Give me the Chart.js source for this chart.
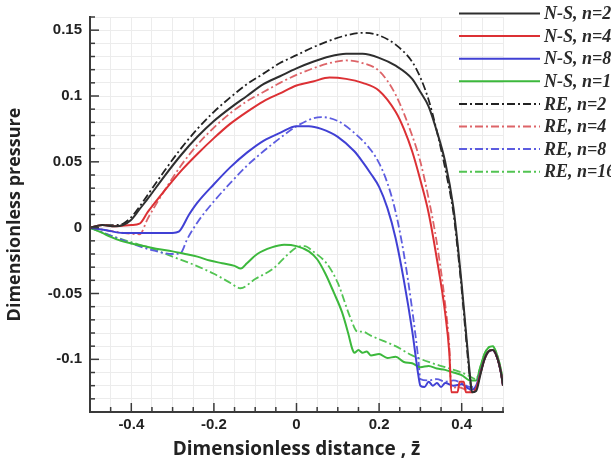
<!DOCTYPE html>
<html>
<head>
<meta charset="utf-8">
<script src="https://cdn.jsdelivr.net/npm/chart.js@4.4.1/dist/chart.umd.min.js"></script>
<style>
  html, body { margin: 0; padding: 0; background: #fff; }
  #wrap { width: 611px; height: 462px; }
</style>
</head>
<body>
<div id="wrap"><canvas id="pressure" width="611" height="462"></canvas></div>
<script>
// series, [z, p]
const ns2 = [[-0.5,0],[-0.47,0.002],[-0.44,0.001],[-0.42,0.002],[-0.4,0.006],[-0.38,0.014],[-0.36,0.022],[-0.32,0.039],[-0.28,0.055],[-0.24,0.069],[-0.2,0.081],[-0.16,0.091],[-0.12,0.1],[-0.08,0.109],[-0.04,0.115],[0,0.121],[0.04,0.126],[0.08,0.13],[0.12,0.132],[0.16,0.132],[0.2,0.129],[0.24,0.123],[0.28,0.113],[0.3,0.103],[0.32,0.092],[0.34,0.073],[0.36,0.05],[0.38,0.015],[0.39,-0.012],[0.4,-0.043],[0.41,-0.078],[0.42,-0.112],[0.425,-0.125],[0.435,-0.124],[0.445,-0.112],[0.455,-0.1],[0.465,-0.094],[0.475,-0.093],[0.485,-0.098],[0.495,-0.11],[0.5,-0.12]];
const ns4 = [[-0.5,0],[-0.47,0.002],[-0.44,0.001],[-0.4,0.002],[-0.38,0.003],[-0.36,0.012],[-0.32,0.028],[-0.28,0.043],[-0.24,0.056],[-0.2,0.068],[-0.16,0.079],[-0.12,0.088],[-0.08,0.096],[-0.04,0.102],[0,0.108],[0.04,0.111],[0.08,0.114],[0.12,0.113],[0.16,0.11],[0.2,0.104],[0.24,0.088],[0.26,0.075],[0.28,0.058],[0.3,0.036],[0.32,0.011],[0.34,-0.024],[0.36,-0.065],[0.37,-0.095],[0.375,-0.125],[0.39,-0.125],[0.395,-0.117],[0.405,-0.117],[0.41,-0.125],[0.425,-0.125],[0.435,-0.122],[0.445,-0.111],[0.455,-0.1],[0.465,-0.094],[0.475,-0.093],[0.485,-0.098],[0.495,-0.11],[0.5,-0.12]];
const ns8 = [[-0.5,0],[-0.46,-0.002],[-0.42,-0.004],[-0.36,-0.004],[-0.3,-0.004],[-0.285,-0.003],[-0.26,0.01],[-0.24,0.019],[-0.2,0.033],[-0.16,0.046],[-0.12,0.057],[-0.08,0.066],[-0.04,0.072],[0,0.077],[0.03,0.077],[0.06,0.075],[0.1,0.069],[0.14,0.058],[0.16,0.05],[0.18,0.041],[0.2,0.031],[0.22,0.015],[0.24,-0.008],[0.26,-0.04],[0.28,-0.078],[0.295,-0.112],[0.3,-0.12],[0.31,-0.121],[0.32,-0.117],[0.33,-0.12],[0.34,-0.118],[0.35,-0.121],[0.36,-0.118],[0.38,-0.12],[0.4,-0.119],[0.415,-0.122],[0.425,-0.123],[0.435,-0.12],[0.445,-0.11],[0.455,-0.1],[0.465,-0.094],[0.475,-0.093],[0.485,-0.098],[0.495,-0.11],[0.5,-0.12]];
const ns16 = [[-0.5,0],[-0.47,-0.004],[-0.45,-0.007],[-0.425,-0.01],[-0.4,-0.012],[-0.37,-0.014],[-0.34,-0.016],[-0.3,-0.018],[-0.27,-0.02],[-0.24,-0.022],[-0.21,-0.025],[-0.18,-0.027],[-0.15,-0.029],[-0.135,-0.031],[-0.12,-0.027],[-0.095,-0.02],[-0.06,-0.015],[-0.03,-0.013],[0,-0.014],[0.03,-0.018],[0.05,-0.024],[0.07,-0.035],[0.09,-0.049],[0.11,-0.064],[0.125,-0.08],[0.135,-0.092],[0.14,-0.095],[0.15,-0.093],[0.16,-0.095],[0.17,-0.094],[0.18,-0.097],[0.2,-0.096],[0.22,-0.099],[0.24,-0.098],[0.26,-0.102],[0.28,-0.103],[0.3,-0.106],[0.32,-0.105],[0.34,-0.107],[0.36,-0.108],[0.38,-0.11],[0.4,-0.112],[0.42,-0.116],[0.435,-0.116],[0.445,-0.106],[0.455,-0.096],[0.465,-0.091],[0.475,-0.09],[0.485,-0.096],[0.495,-0.108],[0.5,-0.117]];
const re2 = [[-0.5,0],[-0.47,0.002],[-0.44,0.002],[-0.42,0.003],[-0.4,0.008],[-0.38,0.016],[-0.36,0.025],[-0.32,0.043],[-0.28,0.06],[-0.24,0.075],[-0.2,0.088],[-0.16,0.099],[-0.12,0.109],[-0.08,0.117],[-0.04,0.125],[0,0.131],[0.04,0.137],[0.08,0.142],[0.12,0.146],[0.16,0.148],[0.2,0.146],[0.24,0.139],[0.28,0.126],[0.3,0.114],[0.32,0.097],[0.34,0.073],[0.36,0.045],[0.38,0.011],[0.39,-0.016],[0.4,-0.047],[0.41,-0.082],[0.42,-0.115],[0.425,-0.124],[0.435,-0.122],[0.445,-0.111],[0.455,-0.1],[0.465,-0.094],[0.475,-0.093],[0.485,-0.098],[0.495,-0.11],[0.5,-0.12]];
const re4 = [[-0.5,0],[-0.46,-0.002],[-0.42,-0.004],[-0.38,-0.005],[-0.36,0.007],[-0.32,0.028],[-0.28,0.047],[-0.24,0.063],[-0.2,0.076],[-0.16,0.087],[-0.12,0.096],[-0.08,0.103],[-0.04,0.11],[0,0.116],[0.04,0.121],[0.08,0.125],[0.12,0.127],[0.16,0.125],[0.2,0.119],[0.24,0.101],[0.28,0.07],[0.3,0.05],[0.32,0.022],[0.34,-0.012],[0.36,-0.058],[0.37,-0.09],[0.375,-0.122],[0.39,-0.121],[0.41,-0.123],[0.425,-0.124],[0.435,-0.122],[0.445,-0.111],[0.455,-0.1],[0.465,-0.094],[0.475,-0.093],[0.485,-0.098],[0.495,-0.11],[0.5,-0.12]];
const re8 = [[-0.5,0],[-0.45,-0.006],[-0.4,-0.012],[-0.35,-0.017],[-0.3,-0.02],[-0.28,-0.019],[-0.265,-0.009],[-0.24,0.004],[-0.2,0.02],[-0.16,0.034],[-0.12,0.047],[-0.08,0.058],[-0.04,0.068],[0,0.077],[0.04,0.083],[0.06,0.084],[0.1,0.081],[0.14,0.072],[0.18,0.059],[0.2,0.049],[0.22,0.034],[0.24,0.012],[0.26,-0.02],[0.28,-0.062],[0.295,-0.1],[0.3,-0.115],[0.32,-0.116],[0.34,-0.115],[0.36,-0.117],[0.38,-0.116],[0.4,-0.118],[0.42,-0.121],[0.435,-0.12],[0.445,-0.11],[0.455,-0.1],[0.465,-0.094],[0.475,-0.093],[0.485,-0.098],[0.495,-0.11],[0.5,-0.12]];
const re16 = [[-0.5,0],[-0.45,-0.006],[-0.4,-0.011],[-0.35,-0.016],[-0.3,-0.022],[-0.25,-0.028],[-0.2,-0.035],[-0.16,-0.042],[-0.136,-0.046],[-0.1,-0.039],[-0.056,-0.031],[-0.02,-0.02],[0,-0.015],[0.02,-0.014],[0.04,-0.018],[0.075,-0.028],[0.1,-0.042],[0.13,-0.068],[0.148,-0.079],[0.16,-0.079],[0.18,-0.082],[0.21,-0.086],[0.24,-0.09],[0.28,-0.097],[0.32,-0.102],[0.36,-0.106],[0.4,-0.11],[0.42,-0.113],[0.435,-0.115],[0.445,-0.106],[0.455,-0.096],[0.465,-0.091],[0.475,-0.09],[0.485,-0.096],[0.495,-0.108],[0.5,-0.117]];

const seriesLabels = ['N-S, n=2', 'N-S, n=4', 'N-S, n=8', 'N-S, n=16', 'RE, n=2', 'RE, n=4', 'RE, n=8', 'RE, n=16'];
const xMajor = [-0.4, -0.2, 0, 0.2, 0.4];
const yMajor = [-0.1, -0.05, 0, 0.05, 0.1, 0.15];

const colors = ['#2e2e2e', '#dc3034', '#4040d4', '#3cb83c', '#222222', '#dd6468', '#5c5ce0', '#52c452'];
const dashDot = [8, 3, 2, 3];

function pts(a) { return a.map(p => ({ x: p[0], y: p[1] })); }
function isMajor(v, list) { return list.some(m => Math.abs(m - v) < 1e-6); }
function fmt(v) { const r = Math.round(v * 100) / 100; return String(r === 0 ? 0 : r); }

const all = [ns2, ns4, ns8, ns16, re2, re4, re8, re16];
const datasets = all.map((s, i) => ({
  label: seriesLabels[i],
  data: pts(s),
  borderColor: colors[i],
  borderWidth: i < 4 ? 2 : 1.8,
  borderDash: i < 4 ? [] : dashDot,
  pointRadius: 0,
  cubicInterpolationMode: 'monotone',
  fill: false
}));

// ticks drawn inside the frame, like the original plot
const innerTicks = {
  id: 'innerTicks',
  afterDatasetsDraw(chart) {
    const { ctx, chartArea, scales } = chart;
    ctx.save();
    ctx.strokeStyle = '#3a3a3a';
    ctx.lineWidth = 1.5;
    scales.x.ticks.forEach(t => {
      const px = scales.x.getPixelForValue(t.value);
      const len = isMajor(t.value, xMajor) ? 9 : 5;
      ctx.beginPath();
      ctx.moveTo(px, chartArea.bottom);
      ctx.lineTo(px, chartArea.bottom - len);
      ctx.stroke();
    });
    scales.y.ticks.forEach(t => {
      const py = scales.y.getPixelForValue(t.value);
      const len = isMajor(t.value, yMajor) ? 9 : 5;
      ctx.beginPath();
      ctx.moveTo(chartArea.left, py);
      ctx.lineTo(chartArea.left + len, py);
      ctx.stroke();
    });
    ctx.restore();
  }
};

const sideLegend = {
  id: 'sideLegend',
  afterDraw(chart) {
    const ctx = chart.ctx;
    ctx.save();
    chart.data.datasets.forEach((ds, i) => {
      const y = 13.5 + i * 22.6;
      ctx.strokeStyle = ds.borderColor;
      ctx.lineWidth = 2;
      ctx.setLineDash(ds.borderDash);
      ctx.beginPath();
      ctx.moveTo(459, y);
      ctx.lineTo(540, y);
      ctx.stroke();
      ctx.setLineDash([]);
      ctx.fillStyle = '#2a2a2a';
      ctx.font = 'italic bold 18px "Liberation Serif"';
      ctx.textBaseline = 'middle';
      ctx.fillText(ds.label, 544, y + 1);
    });
    ctx.restore();
  }
};

new Chart(document.getElementById('pressure'), {
  type: 'line',
  data: { datasets },
  options: {
    responsive: false,
    animation: false,
    layout: { autoPadding: false, padding: { top: 10, right: 108, left: 0, bottom: 0 } },
    plugins: { legend: { display: false }, tooltip: { enabled: false } },
    scales: {
      x: {
        type: 'linear',
        min: -0.5,
        max: 0.5,
        afterBuildTicks: s => {
          const t = [];
          for (let k = -10; k <= 10; k++) t.push({ value: k * 0.05 });
          s.ticks = t;
        },
        afterFit: s => { s.height = 50; },
        ticks: {
          autoSkip: false,
          maxRotation: 0,
          padding: 4,
          color: '#222',
          font: { family: '"Liberation Sans", Arial', size: 15, weight: 'bold' },
          callback: v => isMajor(v, xMajor) ? fmt(v) : ''
        },
        grid: { color: '#ececec', drawTicks: false },
        border: { color: '#3a3a3a', width: 2 },
        title: {
          display: true,
          text: 'Dimensionless distance , z\u0304',
          color: '#222',
          font: { family: '"Open Sans"', size: 19, weight: 'bold' },
          padding: { top: 0, bottom: 1 }
        }
      },
      y: {
        min: -0.14,
        max: 0.16,
        afterBuildTicks: s => {
          const t = [];
          for (let k = -14; k <= 16; k++) t.push({ value: k * 0.01 });
          s.ticks = t;
        },
        afterFit: s => { s.width = 90; },
        ticks: {
          autoSkip: false,
          padding: 8,
          color: '#222',
          font: { family: '"Liberation Sans", Arial', size: 15, weight: 'bold' },
          callback: v => isMajor(v, yMajor) ? fmt(v) : ''
        },
        grid: { color: '#ececec', drawTicks: false },
        border: { color: '#3a3a3a', width: 2 },
        title: {
          display: true,
          text: 'Dimensionless pressure',
          color: '#222',
          font: { family: '"Open Sans"', size: 18, weight: 'bold' },
          padding: { top: 4, bottom: 0 }
        }
      }
    }
  },
  plugins: [innerTicks, sideLegend]
});
</script>
</body>
</html>
